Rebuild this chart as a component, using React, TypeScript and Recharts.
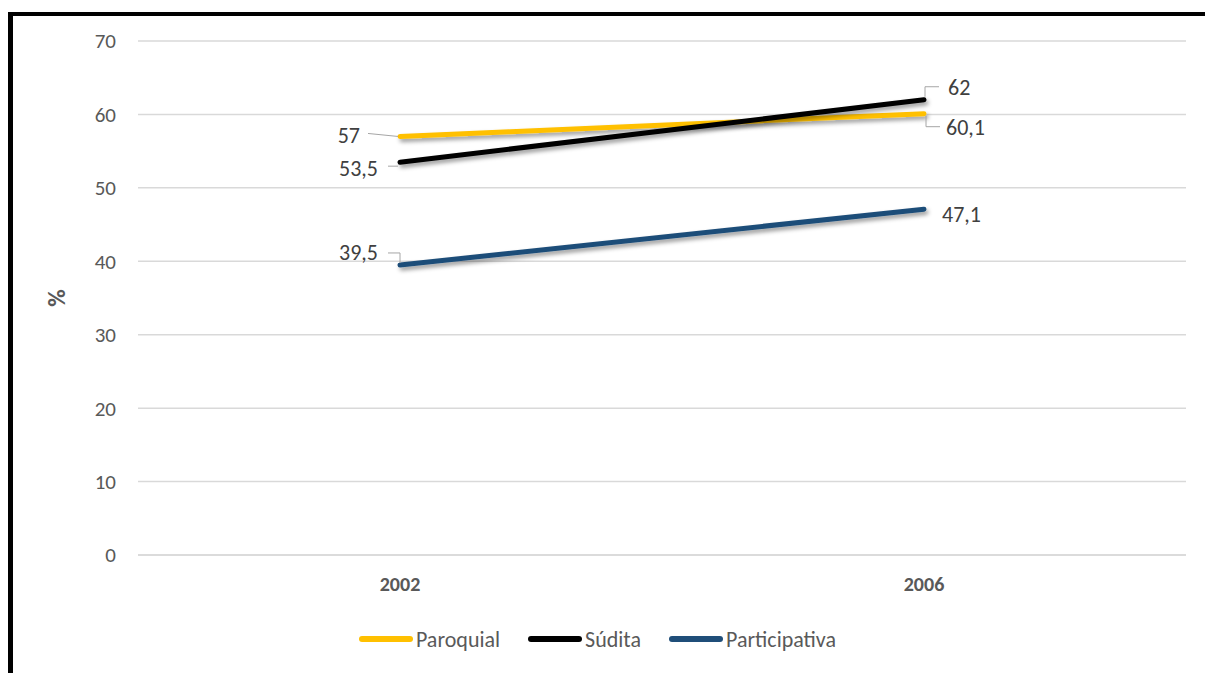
import React from 'react'
import { LineChart, Line, XAxis, YAxis, CartesianGrid, Legend, LabelList } from 'recharts'

const years = ['2002', '2006']
const paroquial = [57, 60.1]
const sudita = [53.5, 62]
const participativa = [39.5, 47.1]
const yTicks = [0, 10, 20, 30, 40, 50, 60, 70]

const data = years.map((year, i) => ({
  year,
  paroquial: paroquial[i],
  sudita: sudita[i],
  participativa: participativa[i],
}))

const FONT = 'Carlito, Calibri, Lato, sans-serif'
const TICK = '#595959'
const LEADER = '#a6a6a6'

const series = [
  { key: 'paroquial', name: 'Paroquial', color: '#FFC000' },
  { key: 'sudita', name: 'Súdita', color: '#000000' },
  { key: 'participativa', name: 'Participativa', color: '#1F4E79' },
]

// label placement per series/point: text offset, anchor, leader polyline (relative to point)
type LabelPos = { dx: number; dy: number; anchor: 'start' | 'end'; leader?: number[][] }
const labelPos: Record<string, LabelPos[]> = {
  paroquial: [
    { dx: -40, dy: -1, anchor: 'end', leader: [[-32, -3], [-2, 0]] },
    { dx: 22, dy: 14, anchor: 'start', leader: [[2, 2], [2, 13], [16, 13]] },
  ],
  sudita: [
    { dx: -22, dy: 6, anchor: 'end', leader: [[-12, 4], [-2, 4]] },
    { dx: 24, dy: -12, anchor: 'start', leader: [[1, -3], [1, -13], [15, -13]] },
  ],
  participativa: [
    { dx: -22, dy: -12, anchor: 'end', leader: [[-12, -12], [0, -12], [0, -2]] },
    { dx: 18, dy: 5, anchor: 'start' },
  ],
}

const makeLabel = (key: string) => (props: any) => {
  const { x, y, index, value } = props
  const pos = labelPos[key][index]
  if (!pos) return null
  const text = String(value).replace('.', ',')
  return (
    <g key={`${key}-${index}`}>
      {pos.leader && (
        <polyline
          points={pos.leader.map(([px, py]) => `${x + px},${y + py}`).join(' ')}
          fill="none"
          stroke={LEADER}
          strokeWidth={1}
        />
      )}
      <text
        x={x + pos.dx}
        y={y + pos.dy}
        textAnchor={pos.anchor}
        dominantBaseline="central"
        fontSize={22}
        fontFamily={FONT}
        fill="#404040"
      >
        {text}
      </text>
    </g>
  )
}

const renderLegend = () => (
  <div
    style={{
      display: 'flex',
      justifyContent: 'center',
      alignItems: 'center',
      height: 26,
      gap: 27,
      fontFamily: FONT,
      fontSize: 22,
      color: TICK,
      paddingRight: 70,
    }}
  >
    {series.map((s) => (
      <div key={s.key} style={{ display: 'flex', alignItems: 'center' }}>
        <svg width={56} height={10} style={{ marginRight: 2 }}>
          <line x1={4} y1={5} x2={52} y2={5} stroke={s.color} strokeWidth={6} strokeLinecap="round" />
        </svg>
        <span>{s.name}</span>
      </div>
    ))}
  </div>
)

export default function App() {
  return (
    <div style={{ position: 'absolute', left: 0, top: 0, width: 1205, height: 673, background: '#fff', overflow: 'hidden' }}>
      <div
        style={{
          position: 'absolute',
          left: 8,
          top: 12,
          width: 1300,
          height: 700,
          borderLeft: '5px solid #000',
          borderTop: '4px solid #000',
        }}
      />
      <div style={{ position: 'absolute', left: 0, top: 0 }}>
        <LineChart
          width={1205}
          height={673}
          data={data}
          margin={{ top: 41, right: 19, bottom: 21, left: 78 }}
        >
          <defs>
            <filter id="lineShadow" x="-10%" y="-50%" width="120%" height="200%">
              <feDropShadow dx={2} dy={3} stdDeviation={2} floodColor="#000" floodOpacity={0.4} />
            </filter>
          </defs>
          <CartesianGrid vertical={false} stroke="#d9d9d9" strokeWidth={1.5} />
          <XAxis
            dataKey="year"
            scale="band"
            axisLine={{ stroke: '#d9d9d9', strokeWidth: 1.5 }}
            tickLine={false}
            tickMargin={16}
            height={71}
            tick={{ fontSize: 20, fontWeight: 700, fill: TICK, fontFamily: FONT }}
          />
          <YAxis
            domain={[0, 70]}
            ticks={yTicks}
            axisLine={false}
            tickLine={false}
            tickMargin={16}
            width={60}
            tick={{ fontSize: 21, fill: TICK, fontFamily: FONT }}
            label={{
              value: '%',
              angle: -90,
              position: 'insideLeft',
              offset: -22,
              style: { fontSize: 24, fontWeight: 700, fill: TICK, fontFamily: FONT, textAnchor: 'middle' },
            }}
          />
          <Legend verticalAlign="bottom" content={renderLegend} />
          {series.map((s) => (
            <Line
              key={s.key}
              dataKey={s.key}
              name={s.name}
              stroke={s.color}
              strokeWidth={5}
              strokeLinecap="round"
              dot={false}
              activeDot={false}
              filter="url(#lineShadow)"
              isAnimationActive={false}
            >
              <LabelList dataKey={s.key} content={makeLabel(s.key)} />
            </Line>
          ))}
        </LineChart>
      </div>
    </div>
  )
}
